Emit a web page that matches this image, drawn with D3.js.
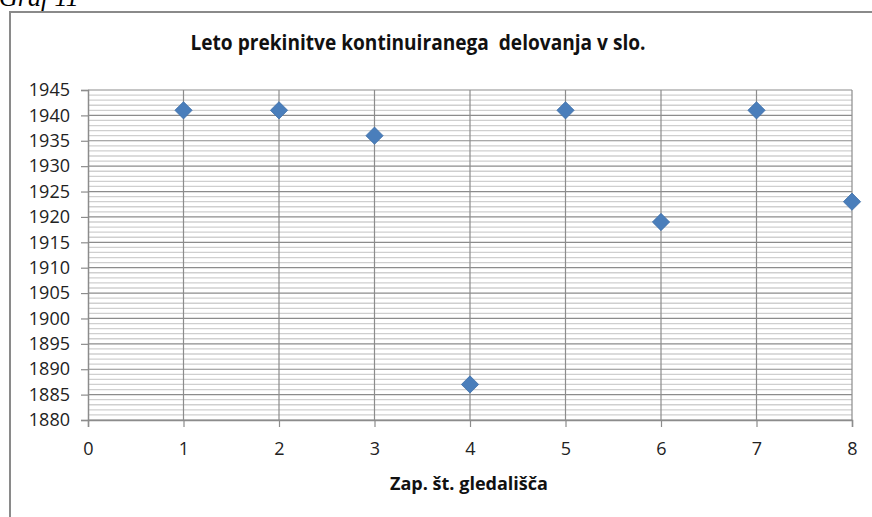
<!DOCTYPE html>
<html>
<head>
<meta charset="utf-8">
<script src="https://cdn.jsdelivr.net/npm/d3@7"></script>
<style>
  body { margin: 0; background: #fff; }
  text { font-family: "Open Sans", "Liberation Sans", sans-serif; }
</style>
</head>
<body>
<script>
// data
var theatres = [1, 2, 3, 4, 5, 6, 7, 8];
var years = [1941, 1941, 1936, 1887, 1941, 1919, 1941, 1923];
var xTicks = [0, 1, 2, 3, 4, 5, 6, 7, 8];
var yTicks = d3.range(1880, 1946, 5);
var yMinor = d3.range(1880, 1946, 1);

var width = 872, height = 517;

var svg = d3.select("body").append("svg")
    .attr("width", width)
    .attr("height", height);

// caption above the frame, cut at the top
svg.append("text")
    .attr("x", -1)
    .attr("y", 6)
    .style("font-family", "Liberation Serif, serif")
    .style("font-style", "italic")
    .style("font-size", "26px")
    .text("Graf 11");

// outer frame
svg.append("path")
    .attr("d", "M10," + height + " V12 H" + width)
    .attr("fill", "none")
    .attr("stroke", "#8a8a8a")
    .attr("stroke-width", 2);

var x = d3.scaleLinear().domain([0, 8]).range([88, 852]);
var y = d3.scaleLinear().domain([1880, 1945]).range([420, 90]);

var g = svg.append("g");

// minor horizontal gridlines
g.append("g").selectAll("line")
    .data(yMinor.filter(function (d) { return d % 5 !== 0; }))
    .join("line")
    .attr("x1", x(0)).attr("x2", x(8))
    .attr("y1", function (d) { return y(d); })
    .attr("y2", function (d) { return y(d); })
    .attr("stroke", "#cfcfcf")
    .attr("stroke-width", 1.3);

// major horizontal gridlines
g.append("g").selectAll("line")
    .data(yTicks)
    .join("line")
    .attr("x1", x(0)).attr("x2", x(8))
    .attr("y1", function (d) { return y(d); })
    .attr("y2", function (d) { return y(d); })
    .attr("stroke", "#8c8c8c")
    .attr("stroke-width", 1.2);

// vertical gridlines
g.append("g").selectAll("line")
    .data(xTicks.slice(1))
    .join("line")
    .attr("x1", function (d) { return x(d); })
    .attr("x2", function (d) { return x(d); })
    .attr("y1", y(1945)).attr("y2", y(1880))
    .attr("stroke", "#8c8c8c")
    .attr("stroke-width", 1.2);

// axes
var yAxis = d3.axisLeft(y).tickValues(yTicks).tickSize(7).tickPadding(11).tickFormat(d3.format("d"));
var xAxis = d3.axisBottom(x).tickValues(xTicks).tickSize(7).tickPadding(15).tickFormat(d3.format("d"));

var ya = svg.append("g").attr("transform", "translate(" + x(0) + ",0)").call(yAxis);
var xa = svg.append("g").attr("transform", "translate(0," + y(1880) + ")").call(xAxis);

[ya, xa].forEach(function (a) {
    a.select(".domain").attr("stroke", "#8c8c8c").attr("stroke-width", 1.5);
    a.selectAll(".tick line").attr("stroke", "#8c8c8c").attr("stroke-width", 1.2);
    a.selectAll(".tick text")
        .attr("fill", "#222")
        .style("font-family", "Open Sans, sans-serif")
        .style("font-size", "18px");
});

// points
svg.append("g").selectAll("path")
    .data(theatres)
    .join("path")
    .attr("d", d3.symbol().type(d3.symbolDiamond2).size(190))
    .attr("transform", function (d, i) { return "translate(" + x(d) + "," + y(years[i]) + ")"; })
    .attr("fill", "#4a7ebb")
    .attr("stroke", "#3e6fa8")
    .attr("stroke-width", 0.8);

// title
svg.append("text")
    .attr("x", 418)
    .attr("y", 50)
    .attr("text-anchor", "middle")
    .attr("textLength", 455)
    .attr("lengthAdjust", "spacingAndGlyphs")
    .style("font-weight", "bold")
    .style("font-size", "21px")
    .style("white-space", "pre")
    .attr("fill", "#111")
    .text("Leto prekinitve kontinuiranega  delovanja v slo.");

// x axis title
svg.append("text")
    .attr("x", 469)
    .attr("y", 490)
    .attr("text-anchor", "middle")
    .attr("textLength", 158)
    .attr("lengthAdjust", "spacingAndGlyphs")
    .style("font-weight", "bold")
    .style("font-size", "18px")
    .attr("fill", "#111")
    .text("Zap. št. gledališča");
</script>
</body>
</html>
